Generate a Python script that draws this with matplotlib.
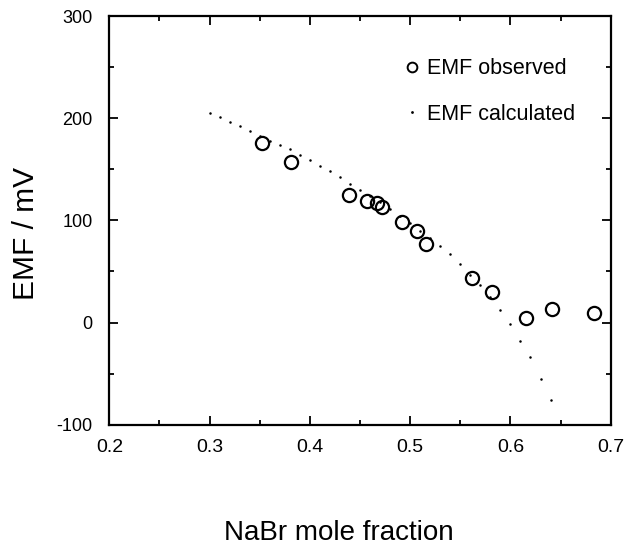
import matplotlib
matplotlib.use("Agg")
import matplotlib.pyplot as plt
from matplotlib.lines import Line2D
from matplotlib.ticker import MultipleLocator

plt.rcParams['font.family'] = ['Liberation Sans', 'DejaVu Sans']
plt.rcParams['axes.unicode_minus'] = False

# observed EMF
obs_x = [0.352, 0.381, 0.439, 0.457, 0.467, 0.472, 0.492, 0.507, 0.516,
         0.562, 0.582, 0.616, 0.641, 0.683]
obs_y = [176, 157, 125, 119, 116.5, 113, 98, 90, 77,
         44, 30, 4.5, 13, 9]

# calculated EMF
calc_x = [0.30, 0.31, 0.32, 0.33, 0.34, 0.35, 0.36, 0.37, 0.38, 0.39,
          0.40, 0.41, 0.42, 0.43, 0.44, 0.45, 0.46, 0.47, 0.48, 0.49,
          0.50, 0.51, 0.52, 0.53, 0.54, 0.55, 0.56, 0.57, 0.58, 0.59,
          0.60, 0.61, 0.62, 0.63, 0.64]
calc_y = [205.5, 201, 196.5, 192, 187.5, 182.5, 178, 174, 170, 164,
          159, 153, 148, 142, 136, 130, 124, 118, 111, 104,
          97, 90, 82.5, 75, 67.5, 57, 47, 37, 25, 12,
          -1.5, -18, -34, -55, -75.5]

x_ticks = [0.2, 0.3, 0.4, 0.5, 0.6, 0.7]
x_tick_labels = ['0.2', '0.3', '0.4', '0.5', '0.6', '0.7']

fig = plt.figure(figsize=(6.32, 5.5), dpi=100)
ax = fig.add_axes([0.173, 0.2278, 0.9663 - 0.173, 0.9709 - 0.2278])

ax.plot(calc_x, calc_y, linestyle='none', marker='o', markersize=1.8,
        color='black', markeredgewidth=0)
ax.plot(obs_x, obs_y, linestyle='none', marker='o', markersize=9.5,
        markerfacecolor='none', markeredgecolor='black', markeredgewidth=1.6)

ax.set_xlim(0.2, 0.7)
ax.set_ylim(-100, 300)
ax.xaxis.set_major_locator(MultipleLocator(0.1))
ax.xaxis.set_minor_locator(MultipleLocator(0.05))
ax.yaxis.set_major_locator(MultipleLocator(100))
ax.yaxis.set_minor_locator(MultipleLocator(50))
ax.tick_params(which='both', direction='in', top=True, right=True, width=1.3)
ax.tick_params(which='major', length=6.5)
ax.tick_params(which='minor', length=3.8)
ax.tick_params(axis='x', labelsize=14, pad=10.5)
ax.tick_params(axis='y', labelsize=13, pad=12)
ax.set_xticks(x_ticks)
ax.set_xticklabels(x_tick_labels)
for s in ax.spines.values():
    s.set_linewidth(1.6)

ax.set_xlabel('NaBr mole fraction', fontsize=20)
ax.xaxis.set_label_coords((339 - 109.3) / 501.4, (424.7 - 546) / 408.7)
ax.xaxis.label.set_va('bottom')
ax.set_ylabel('EMF / mV', fontsize=21.5)
ax.yaxis.set_label_coords((26 - 109.3) / 501.4, (424.7 - 233.5) / 408.7)
ax.yaxis.label.set_va('center')
ax.yaxis.label.set_ha('center')

handles = [
    Line2D([], [], linestyle='none', marker='o', markersize=7,
           markerfacecolor='none', markeredgecolor='black', markeredgewidth=1.4),
    Line2D([], [], linestyle='none', marker='o', markersize=2,
           color='black', markeredgewidth=0),
]
ax.legend(handles, ['EMF observed', 'EMF calculated'], loc='upper right',
          bbox_to_anchor=(0.947, 0.918), frameon=False, fontsize=15.5,
          handlelength=0.6, handletextpad=0.4, labelspacing=1.15,
          borderaxespad=0)

fig.savefig('out.png', dpi=100)
